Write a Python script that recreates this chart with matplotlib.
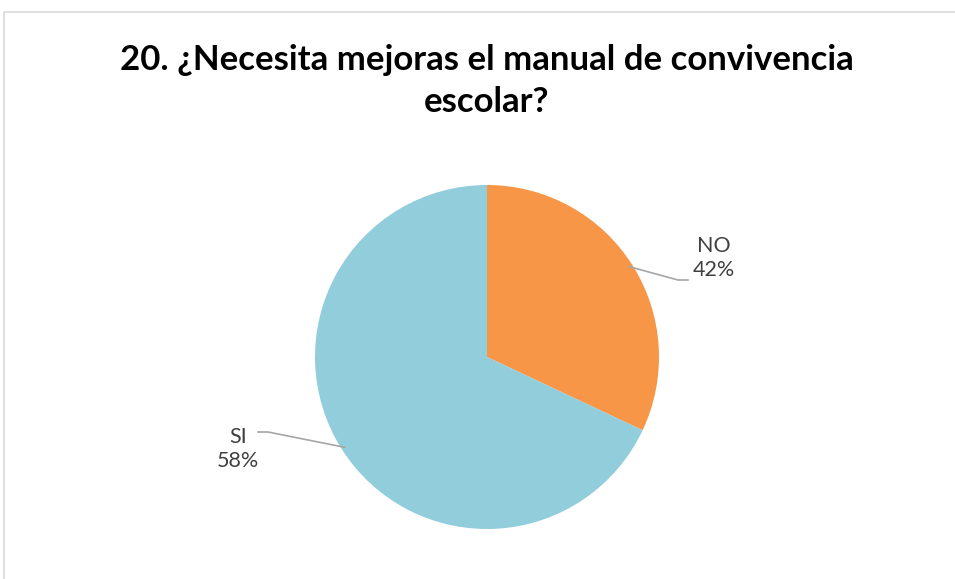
import matplotlib
matplotlib.use("Agg")
import matplotlib.pyplot as plt
import numpy as np
from matplotlib.patches import Rectangle

# Data
categories = ["NO", "SI"]
values = [32, 68]            # slice sizes as drawn
pct_labels = ["42%", "58%"]  # label texts as shown
colors = ["#F79646", "#92CDDC"]
title = "20. ¿Necesita mejoras el manual de convivencia\nescolar?"

W, H = 955, 579
fig = plt.figure(figsize=(W / 100, H / 100), dpi=100)
ax = fig.add_axes([0, 0, 1, 1])
ax.set_xlim(0, W)
ax.set_ylim(0, H)
ax.set_aspect("equal")
ax.axis("off")

# chart border
ax.add_patch(Rectangle((4, -10), W + 20, H - 12 + 10, fill=False,
                       edgecolor="#D9D9D9", linewidth=1.2))

cx, cy, r = 487, H - 357, 172
wedges, _ = ax.pie(values, colors=colors, startangle=90, counterclock=False,
                   center=(cx, cy), radius=r, frame=True,
                   wedgeprops=dict(linewidth=0))
ax.set_xlim(0, W)
ax.set_ylim(0, H)
ax.axis("off")

fig.text(487 / W, 1 - 81 / H, title, ha="center", va="center",
         fontsize=25, fontweight="bold", family="Lato", color="#000000",
         linespacing=1.38)

label_pos = [(714, H - 258), (238, H - 449)]
elbow = [(688, H - 280), (258, H - 432)]
mid_pts = [(678, H - 280), (268, H - 432)]
for w, cat, pl, (tx, ty), e, m in zip(wedges, categories, pct_labels,
                                        label_pos, elbow, mid_pts):
    ang = np.deg2rad((w.theta1 + w.theta2) / 2)
    ax_pt = (cx + r * 0.98 * np.cos(ang), cy + r * 0.98 * np.sin(ang))
    ax.text(tx, ty, f"{cat}\n{pl}", ha="center", va="center", fontsize=15.5,
            family="Lato", color="#404040", linespacing=1.25)
    ax.plot([ax_pt[0], m[0], e[0]], [ax_pt[1], m[1], e[1]],
            color="#A6A6A6", linewidth=1.2)

fig.savefig("out.png", dpi=100, facecolor="white")
